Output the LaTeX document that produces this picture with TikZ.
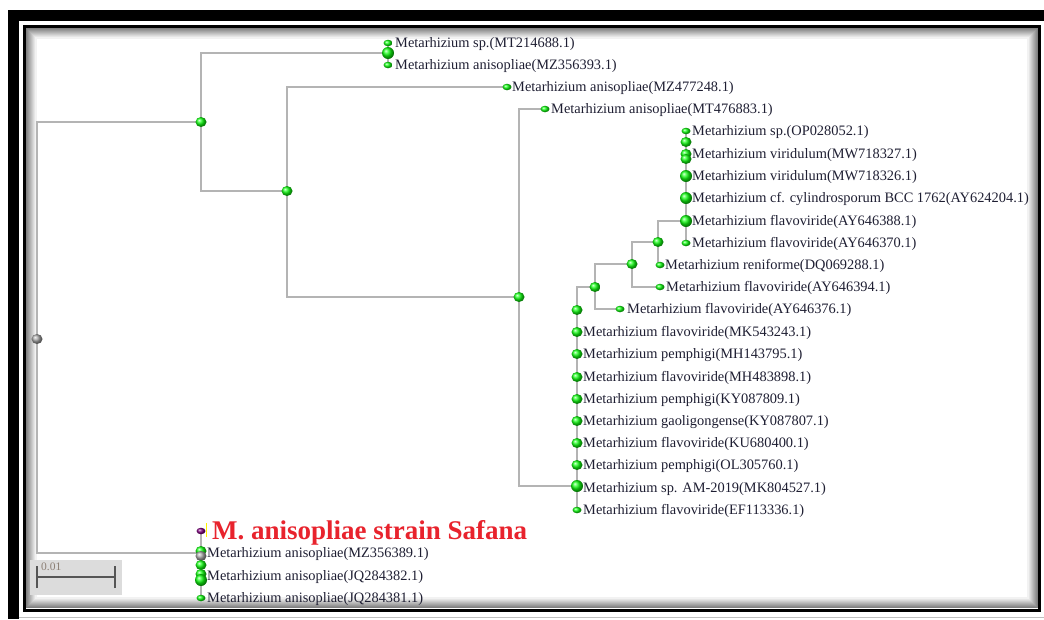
\documentclass[tikz,border=0pt]{standalone}
\usepackage{fontspec}
\setmainfont{Liberation Serif}
\usetikzlibrary{shapes.geometric}
\definecolor{BranchGray}{HTML}{B4B4B4}
\definecolor{LabelInk}{HTML}{1E1E32}
\definecolor{SafanaRed}{HTML}{E8232D}
\definecolor{TipGreen}{HTML}{10FF10}
\definecolor{BarBack}{HTML}{DCDCDC}
\definecolor{BarInk}{HTML}{555555}
\definecolor{BarText}{HTML}{8B7E74}

\begin{document}
\begin{tikzpicture}[
	x=1pt, y=-1pt,
	branch/.style={draw=BranchGray, line width=1.4pt},
	ballnode/.style={ellipse, inner sep=0pt, shading=ball, ball color=TipGreen},
	tipball/.style={ballnode, minimum width=9pt, minimum height=6.5pt},
	midball/.style={ballnode, minimum width=11pt, minimum height=10pt},
	bigball/.style={ballnode, minimum width=12pt, minimum height=12pt},
	taxon/.style={anchor=west, inner sep=0pt, text=LabelInk, font=\fontsize{14.4}{16}\selectfont}
]
\useasboundingbox (0,0) rectangle (1044,619);

% frame
\fill[black] (8,10) rectangle (1044,21);
\fill[black] (8,10) rectangle (19,619);
\draw[black!25] (19,617.5) -- (1044,617.5);
\foreach \i in {1,...,10}{
	\pgfmathsetmacro{\shadeval}{55-5*\i}
	\draw[black!\shadeval, line width=1.1pt] ({26+\i},{28+\i}) rectangle ({1038-\i},{608-\i});
}
\draw[black, line width=3.3pt] (24.8,26.5) rectangle (1039.5,610.5);

% scale bar
\fill[BarBack] (30,560) rectangle (122,595);
\coordinate (barL) at (37,577);
\coordinate (barR) at (115,577);
\draw[BarInk, line width=2pt] (barL) -- (barR);
\draw[BarInk, line width=2pt] ([yshift=-11pt]barL) -- ([yshift=11pt]barL);
\draw[BarInk, line width=2pt] ([yshift=-11pt]barR) -- ([yshift=11pt]barR);
\node[anchor=west, inner sep=0pt, text=BarText, font=\fontsize{11.5}{12}\selectfont] (barlabel) at (41,567) {0.01};

% inner nodes
\coordinate (root) at (37,339);
\coordinate (nA) at (201,122);
\coordinate (nP) at (388,53);
\coordinate (nB) at (287,191);
\coordinate (nC) at (519,297);
\coordinate (nD) at (577,486);
\coordinate (nF) at (595,287);
\coordinate (nG) at (632,264);
\coordinate (nH) at (658,242);
\coordinate (nI) at (686,221);
\coordinate (nJ) at (201,553);

% single leaves
\coordinate (l1) at (388,43);
\coordinate (l2) at (388,65);
\coordinate (l3) at (507,87);
\coordinate (l4) at (545,109);
\coordinate (l5) at (620,309);
\coordinate (l6) at (660,287);
\coordinate (l7) at (660,265);
\node[taxon] (t1) at (395,44) {Metarhizium sp.(MT214688.1)};
\node[taxon] (t2) at (395,66) {Metarhizium anisopliae(MZ356393.1)};
\node[taxon] (t3) at (512,88) {Metarhizium anisopliae(MZ477248.1)};
\node[taxon] (t4) at (551,110) {Metarhizium anisopliae(MT476883.1)};
\node[taxon] (t5) at (627,310) {Metarhizium flavoviride(AY646376.1)};
\node[taxon] (t6) at (666,288) {Metarhizium flavoviride(AY646394.1)};
\node[taxon] (t7) at (665,266) {Metarhizium reniforme(DQ069288.1)};

% upper cluster
\foreach \y/\name [count=\k] in {131/{Metarhizium sp.(OP028052.1)}, 154/{Metarhizium viridulum(MW718327.1)}, 176/{Metarhizium viridulum(MW718326.1)}, 198/{Metarhizium cf. cylindrosporum BCC 1762(AY624204.1)}, 221/{Metarhizium flavoviride(AY646388.1)}, 243/{Metarhizium flavoviride(AY646370.1)}}{
	\coordinate (i\k) at (686,\y);
	\node[taxon] (ti\k) at (692,\y+1) {\name};
}

% lower cluster
\foreach \y/\name [count=\k] in {332/{Metarhizium flavoviride(MK543243.1)}, 354/{Metarhizium pemphigi(MH143795.1)}, 377/{Metarhizium flavoviride(MH483898.1)}, 399/{Metarhizium pemphigi(KY087809.1)}, 421/{Metarhizium gaoligongense(KY087807.1)}, 443/{Metarhizium flavoviride(KU680400.1)}, 465/{Metarhizium pemphigi(OL305760.1)}, 488/{Metarhizium sp. AM-2019(MK804527.1)}, 510/{Metarhizium flavoviride(EF113336.1)}}{
	\coordinate (d\k) at (577,\y);
	\node[taxon] (td\k) at (583,\y+1) {\name};
}

% outgroup
\coordinate (s0) at (201,531);
\foreach \y/\name [count=\k] in {553/{Metarhizium anisopliae(MZ356389.1)}, 576/{Metarhizium anisopliae(JQ284382.1)}, 598/{Metarhizium anisopliae(JQ284381.1)}}{
	\coordinate (s\k) at (201,\y);
	\node[taxon] (ts\k) at (207,\y+1) {\name};
}
\node[anchor=base west, inner sep=0pt, text=SafanaRed, font=\fontsize{27}{29}\selectfont\bfseries] (safana) at (212,539) {M. anisopliae strain Safana};
\draw[yellow, line width=1pt] (206,523) -- (206,537);

% branches
\draw[branch] (root) |- (nA);
\draw[branch] (root) |- (nJ);
\draw[branch] (nA) |- (nP);
\draw[branch] (nA) |- (nB);
\draw[branch] (nP) |- (l1);
\draw[branch] (nP) |- (l2);
\draw[branch] (nB) |- (l3);
\draw[branch] (nB) |- (nC);
\draw[branch] (nC) |- (l4);
\draw[branch] (nC) |- (nD);
\draw[branch] (nD) |- (nF);
\draw[branch] (nD) |- (d9);
\draw[branch] (nF) |- (nG);
\draw[branch] (nF) |- (l5);
\draw[branch] (nG) |- (nH);
\draw[branch] (nG) |- (l6);
\draw[branch] (nH) |- (nI);
\draw[branch] (nH) |- (l7);
\draw[branch] (nI) |- (i1);
\draw[branch] (nI) |- (i6);
\draw[branch] (nJ) |- (s0);
\draw[branch] (nJ) |- (s3);

% balls
\node[midball, ball color=gray!70] (broot) at (root) {};
\node[midball] (bA) at (nA) {};
\node[midball] (bB) at (nB) {};
\node[midball] (bC) at (nC) {};
\node[midball] (bF) at (nF) {};
\node[midball] (bG) at (nG) {};
\node[midball] (bH) at (nH) {};
\node[bigball] (bP) at (nP) {};
\node[tipball] (b1) at (l1) {};
\node[tipball] (b2) at (l2) {};
\node[tipball] (b3) at (l3) {};
\node[tipball] (b4) at (l4) {};
\node[tipball] (b5) at (l5) {};
\node[tipball] (b6) at (l6) {};
\node[tipball] (b7) at (l7) {};

\node[tipball] (bi1) at (i1) {};
\node[midball] (bi1x) at (686,142) {};
\node[midball] (bi2) at (i2) {};
\node[midball] (bi2x) at (686,159) {};
\node[bigball] (bi3) at (i3) {};
\node[bigball] (bi4) at (i4) {};
\node[bigball] (bI) at (nI) {};
\node[tipball] (bi6) at (i6) {};

\node[midball] (bd0) at (577,310) {};
\foreach \k in {1,...,7}{
	\node[midball] (bd\k) at (d\k) {};
}
\node[bigball] (bD) at (nD) {};
\node[tipball] (bd9) at (d9) {};

\node[tipball, ball color=violet] (bs0) at (s0) {};
\node[midball] (bs1a) at (201,551) {};
\node[midball, ball color=gray!70] (bs1) at (201,556) {};
\node[midball] (bs1b) at (201,565) {};
\node[midball] (bs2a) at (201,574) {};
\node[bigball] (bs2) at (201,580) {};
\node[tipball] (bs3) at (s3) {};
\end{tikzpicture}
\end{document}
